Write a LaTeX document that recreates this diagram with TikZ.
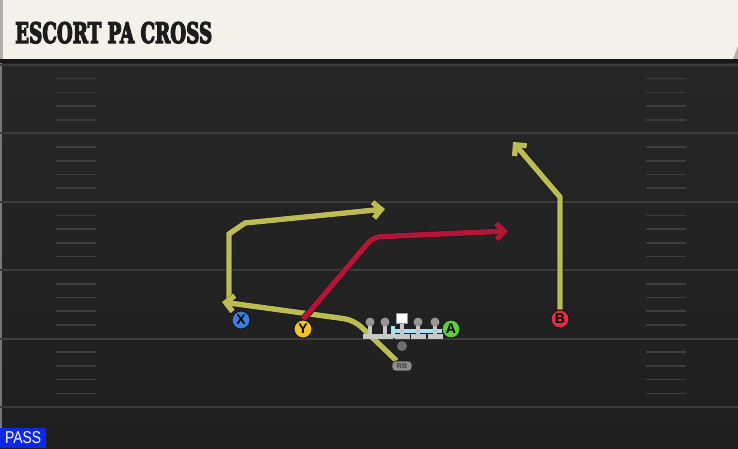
\documentclass[tikz,border=0pt]{standalone}
\usepackage{fontspec}
\setmainfont{Liberation Sans}
\newfontfamily\titlefont[FakeBold=5]{DejaVu Serif}
\usepackage{graphicx}
\usetikzlibrary{arrows.meta, backgrounds}

\definecolor{fieldtop}{RGB}{38,38,38}
\definecolor{fieldbot}{RGB}{31,31,31}
\definecolor{yardgray}{RGB}{60,60,60}
\definecolor{hashgray}{RGB}{62,62,62}
\definecolor{headcream}{RGB}{244,241,234}
\definecolor{headedge}{RGB}{175,175,175}
\definecolor{headshadow}{RGB}{24,24,24}
\definecolor{titleink}{RGB}{28,28,28}
\definecolor{routeyellow}{RGB}{188,188,82}
\definecolor{routered}{RGB}{178,22,52}
\definecolor{routeline}{RGB}{20,20,34}
\definecolor{xblue}{RGB}{62,126,222}
\definecolor{yyellow}{RGB}{246,196,30}
\definecolor{agreen}{RGB}{96,204,58}
\definecolor{bred}{RGB}{222,48,62}
\definecolor{linebody}{RGB}{200,200,200}
\definecolor{linehead}{RGB}{150,150,150}
\definecolor{protectblue}{RGB}{170,225,240}
\definecolor{qbgray}{RGB}{110,110,110}
\definecolor{rbgray}{RGB}{140,140,140}
\definecolor{passblue}{RGB}{12,40,230}

\tikzset{
  yardline/.style={draw=yardgray, line width=2pt},
  hashmark/.style={draw=hashgray, line width=1.6pt},
  route/.style={line width=5.4pt, line join=miter,
    preaction={draw=routeline, line width=6.8pt},
    -{Straight Barb[length=8pt, width=16pt]}},
  player/.style={circle, draw=routeline, line width=0.9pt, minimum size=18pt,
    inner sep=0pt, font=\fontsize{14}{14}\selectfont\bfseries, text=black},
  rbbox/.style={rounded corners=3.5pt, fill=rbgray, draw=routeline, line width=0.6pt,
    minimum width=20pt, minimum height=10pt, inner sep=0pt,
    font=\fontsize{7}{7}\selectfont\bfseries, text=black!75},
  protect/.style={draw=protectblue, line width=3.2pt},
}

\begin{document}
\begin{tikzpicture}[x=1pt, y=-1pt]
    \useasboundingbox (0,0) rectangle (738,448);

    % players
    \node[player, fill=xblue] (x) at (241,320) {X};
    \node[player, fill=yyellow] (y) at (303,329) {Y};
    \node[player, fill=agreen] (a) at (451,329) {A};
    \node[player, fill=bred] (b) at (560,319) {B};
    \node[rbbox] (rb) at (402,366) {RB};
    \node[circle, fill=qbgray, minimum size=10pt, inner sep=0pt] (qb) at (402,346) {};

    % offensive line
    \draw[protect] (393,331) -- (442,331);
    \draw[protect] (393,326) -- (393,338);
    \foreach \lx in {370,385,418,435} {
        \fill[linebody] (\lx-2,324) rectangle (\lx+2,335);
        \fill[linebody] (\lx-7.5,333.5) rectangle (\lx+7.5,338.5);
        \fill[linehead] (\lx,322) circle (4.5pt);
    }
    \fill[linebody] (400,322) rectangle (404,335);
    \fill[linebody] (394.5,333.5) rectangle (409.5,338.5);
    \filldraw[fill=white, draw=linehead, line width=0.5pt] (396.5,313.5) rectangle (407.5,323.5);

    % header
    \fill[headcream] (0,0) -- (738,0) -- (738,46) -- (733,59) -- (0,59) -- cycle;
    \fill[headedge] (0,0) rectangle (3,59);
    \fill[headedge] (738,46) -- (733,59) -- (738,59) -- cycle;
    \fill[headshadow] (0,59) rectangle (738,63);
    \node[anchor=base west, inner sep=0pt, text=titleink] (title) at (15,43)
        {\resizebox{197pt}{21pt}{\titlefont\bfseries ESCORT PA CROSS}};

    % play type
    \node[anchor=south west, fill=passblue, text=white, minimum width=46pt,
        minimum height=20pt, inner sep=0pt] (pass) at (0,448)
        {\resizebox{36pt}{12pt}{PASS}};

    \begin{scope}[on background layer]
        % field
        \shade[top color=fieldtop, bottom color=fieldbot] (0,63) rectangle (738,448);
        \fill[headedge!60!fieldtop] (0,63) rectangle (2,448);
        \foreach \k in {0,...,5}
            \draw[yardline] (0,65+68.4*\k) -- (738,65+68.4*\k);
        \foreach \k in {0,...,4} {
            \foreach \j in {1,...,4} {
                \draw[hashmark] (56,65+68.4*\k+13.68*\j) -- (96,65+68.4*\k+13.68*\j);
                \draw[hashmark] (646,65+68.4*\k+13.68*\j) -- (686,65+68.4*\k+13.68*\j);
            }
        }

        % routes
        \coordinate (xstart) at (229,305);
        \draw[route, routeyellow] (xstart) -- (229,234) -- (245,223) -- (385,209);
        \draw[route, routeyellow, rounded corners=10pt] (rb) -- (354,320) -- (222,302);
        \draw[route, routered, rounded corners=8pt] (y.north) -- (373,237) -- (508,231);
        \draw[route, routeyellow] (b) -- (560,197) -- (513,142);
    \end{scope}
\end{tikzpicture}
\end{document}
